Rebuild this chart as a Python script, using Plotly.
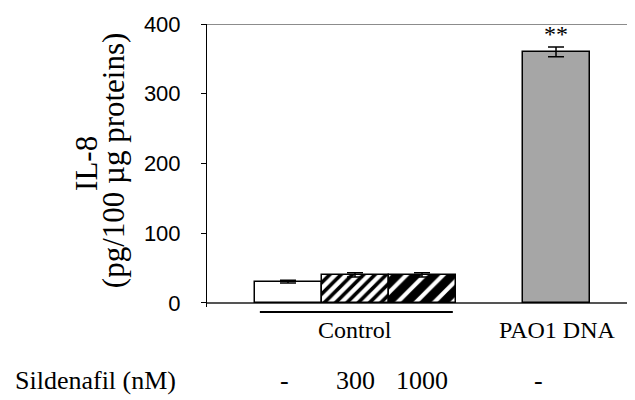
import plotly.graph_objects as go

# ---- data ----
groups = ["Control", "Control", "Control", "PAO1 DNA"]
sildenafil_labels = ["-", "300", "1000", "-"]
il8_values = [30.5, 40.0, 40.0, 360.0]
il8_errors = [2.0, 3.0, 3.0, 7.0]
significance = ["", "", "", "**"]
y_ticks = [0, 100, 200, 300, 400]

positions = [1, 2, 3, 5]  # bar slots (gap before PAO1 DNA)

SERIF = "Liberation Serif"
SANS = "Liberation Sans"

patterns = [
    dict(shape=""),
    dict(shape="/", bgcolor="white", fgcolor="black", fgopacity=1, size=8, solidity=0.45),
    dict(shape="/", bgcolor="white", fgcolor="black", fgopacity=1, size=13, solidity=0.68),
    dict(shape=""),
]
fills = ["white", "white", "white", "#a6a6a6"]

fig = go.Figure()
for i in range(len(il8_values)):
    fig.add_trace(go.Bar(
        x=[positions[i]], y=[il8_values[i]], width=1.0,
        marker=dict(color=fills[i], line=dict(color="black", width=1.5),
                    pattern=patterns[i]),
        error_y=dict(type="data", array=[il8_errors[i]], color="black",
                     thickness=1.5, width=8),
        showlegend=False,
    ))

# significance stars
for i, s in enumerate(significance):
    if s:
        fig.add_annotation(x=positions[i], y=il8_values[i] + il8_errors[i],
                           yshift=-2, text=s, showarrow=False, yanchor="bottom",
                           xanchor="center",
                           font=dict(family=SERIF, size=24, color="#000000"))

# Sildenafil row
for i, lab in enumerate(sildenafil_labels):
    fig.add_annotation(x=positions[i], xref="x", y=-0.258, yref="paper",
                       xanchor="center", yanchor="middle",
                       xshift=(-18 if i == 3 else -4 if i == 0 else 0),
                       text=lab, showarrow=False,
                       font=dict(family=SERIF, size=26, color="black"))
fig.add_annotation(x=-0.453, xref="paper", y=-0.258, yref="paper",
                   xanchor="left", yanchor="middle",
                   text="Sildenafil (nM)", showarrow=False,
                   font=dict(family=SERIF, size=26, color="black"))

# group labels
ctrl_pos = [p for p, g in zip(positions, groups) if g == "Control"]
fig.add_annotation(x=sum(ctrl_pos) / len(ctrl_pos), y=-0.0813, yref="paper",
                   xanchor="center", yanchor="middle",
                   text="Control", showarrow=False,
                   font=dict(family=SERIF, size=24, color="black"))
pao_pos = [p for p, g in zip(positions, groups) if g == "PAO1 DNA"]
fig.add_annotation(x=pao_pos[0], y=-0.0813, yref="paper", xshift=1,
                   xanchor="center", yanchor="middle",
                   text="PAO1 DNA", showarrow=False,
                   font=dict(family=SERIF, size=24, color="black"))
fig.add_shape(type="line", xref="x", yref="paper",
              x0=min(ctrl_pos) - 0.42, x1=max(ctrl_pos) + 0.46, y0=-0.018, y1=-0.018,
              line=dict(color="black", width=2))

# y-axis title (two lines)
fig.add_annotation(x=-0.2804, xref="paper", y=0.509, yref="paper", text="IL-8",
                   xanchor="center", yanchor="middle",
                   textangle=-90, showarrow=False,
                   font=dict(family=SERIF, size=31, color="black"))
fig.add_annotation(x=-0.2196, xref="paper", y=0.519, yref="paper",
                   xanchor="center", yanchor="middle",
                   text="(pg/100 µg proteins)", textangle=-90, showarrow=False,
                   font=dict(family=SERIF, size=31, color="black"))

# top border
fig.add_shape(type="line", xref="paper", yref="y", x0=0, x1=1, y0=400, y1=400,
              line=dict(color="#8c8c8c", width=2))

# page body has an 8px margin -> figure is 627x392 placed at (8, 8)
fig.update_layout(
    width=627, height=392,
    margin=dict(l=199, r=0, t=16, b=93),
    plot_bgcolor="white", paper_bgcolor="white",
    bargap=0,
    xaxis=dict(range=[-0.209, 6.179], showticklabels=False, ticks="",
               showgrid=False, zeroline=False, showline=False),
    yaxis=dict(range=[-6, 400], tickvals=y_ticks, ticks="outside", ticklen=5,
               tickcolor="black", tickwidth=1, showline=True, linecolor="black",
               linewidth=1, showgrid=False, zeroline=True, zerolinecolor="#555555",
               zerolinewidth=2, ticklabelstandoff=16,
               tickfont=dict(family=SANS, size=22, color="black")),
)

fig.write_html("out.html")
